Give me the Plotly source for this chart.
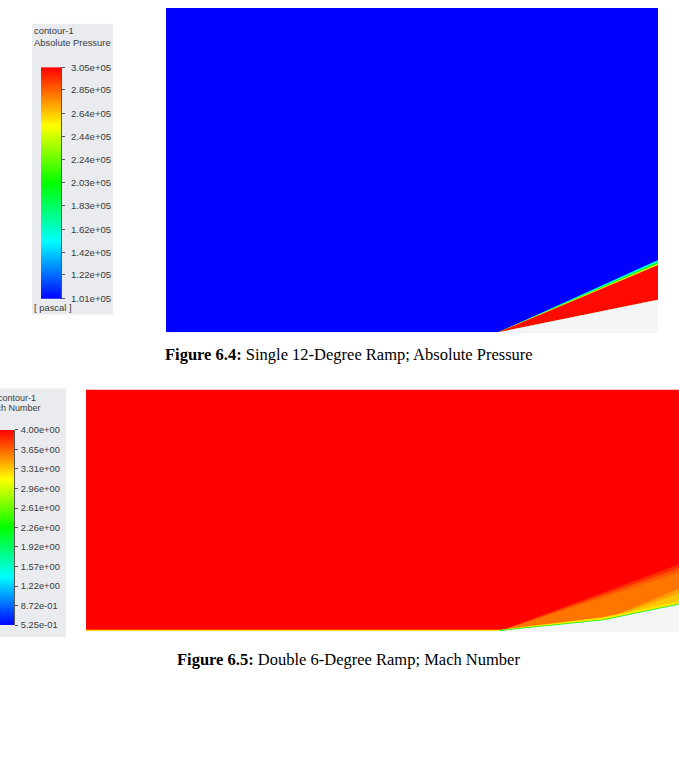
import numpy as np
import plotly.graph_objects as go

# ---------------- colour scale (Fluent-style rainbow) ----------------
scale_pos = [0.0, 0.25, 0.5, 0.75, 1.0]
scale_rgb = [(0, 0, 255), (0, 255, 255), (0, 255, 0), (255, 255, 0), (255, 0, 0)]

# ---------------- Figure 6.4 : absolute pressure legend ----------------
p_min, p_max = 1.01e5, 3.05e5
p_ticks = [1.01e5, 1.22e5, 1.42e5, 1.62e5, 1.83e5, 2.03e5, 2.24e5, 2.44e5, 2.64e5, 2.85e5, 3.05e5]
p_labels = ["1.01e+05", "1.22e+05", "1.42e+05", "1.62e+05", "1.83e+05", "2.03e+05",
            "2.24e+05", "2.44e+05", "2.64e+05", "2.85e+05", "3.05e+05"]

# ---------------- Figure 6.5 : Mach number legend ----------------
m_min, m_max = 0.525, 4.00
m_ticks = [0.525, 0.872, 1.22, 1.57, 1.92, 2.26, 2.61, 2.96, 3.31, 3.65, 4.00]
m_labels = ["5.25e-01", "8.72e-01", "1.22e+00", "1.57e+00", "1.92e+00", "2.26e+00",
            "2.61e+00", "2.96e+00", "3.31e+00", "3.65e+00", "4.00e+00"]

# ---------------- single 12-degree ramp (domain units) ----------------
ramp1_x = [0.0, 0.675, 1.0]
ramp1_y = [0.0, 0.0, 0.067]
p_free = 1.01e5
shock1_levels = [1.55e5, 2.05e5, 2.50e5, 3.03e5]   # cyan edge -> red core
shock1_top = [0.149, 0.145, 0.142, 0.139]            # height of each layer at outlet

# ---------------- double 6-degree ramp (domain units) ----------------
ramp2_x = [0.0, 0.698, 0.872, 1.0]
ramp2_y = [0.002, 0.002, 0.0202, 0.047]
mach_free = 4.00
zone_mach = [3.85, 3.70, 3.60, 3.45, 3.33]   # shock 1 (three layers), shock 2 (two layers)
zone_start = [1, 1, 1, 2, 2]                 # wall vertex where each shock starts
zone_top = [0.116, 0.109, 0.102, 0.074, 0.066]  # height at outlet
bl_mach = [3.22, 2.26]                       # boundary-layer band, wall line
bl_thick = [0.002, 0.002, 0.005, 0.006]

W, H = 679, 783


def cmap(v, vmin, vmax):
    t = min(max((v - vmin) / (vmax - vmin), 0.0), 1.0)
    for i in range(len(scale_pos) - 1):
        if t <= scale_pos[i + 1]:
            f = (t - scale_pos[i]) / (scale_pos[i + 1] - scale_pos[i])
            c = [round(a + (b - a) * f) for a, b in zip(scale_rgb[i], scale_rgb[i + 1])]
            return "rgb(%d,%d,%d)" % tuple(c)
    return "rgb(%d,%d,%d)" % scale_rgb[-1]


colorscale = [[p, "rgb(%d,%d,%d)" % c] for p, c in zip(scale_pos, scale_rgb)]


def px_x(a, b):
    return [a / W, b / W]


def px_y(top, bottom):
    return [1 - bottom / H, 1 - top / H]


fig = go.Figure()


def poly(xs, ys, color, xa, ya):
    fig.add_trace(go.Scatter(x=xs, y=ys, fill="toself", fillcolor=color, mode="lines",
                             line=dict(width=0, color=color), hoverinfo="skip",
                             showlegend=False, xaxis=xa, yaxis=ya))


# ---------- panel 1 ----------
P1_YMAX = 329 / 492
poly([0, 1, 1, 0], [0, 0, P1_YMAX, P1_YMAX], cmap(p_free, p_min, p_max), "x", "y")
x0 = ramp1_x[1]
for lev, top in zip(shock1_levels, shock1_top):
    poly([x0, 1, 1], [0, top, ramp1_y[2]], cmap(lev, p_min, p_max), "x", "y")
poly([x0, 1, 1], [0, ramp1_y[2], 0], "#f4f5f7", "x", "y")

# ---------- panel 2 ----------
P2_YMAX = 246 / 593
poly([0, 1, 1, 0], [0, 0, P2_YMAX, P2_YMAX], cmap(mach_free, m_min, m_max), "x2", "y2")
for mval, si, top in zip(zone_mach, zone_start, zone_top):
    xs = [ramp2_x[si], 1] + ramp2_x[si:][::-1]
    ys = [ramp2_y[si], top] + ramp2_y[si:][::-1]
    poly(xs, ys, cmap(mval, m_min, m_max), "x2", "y2")
bl_x = ramp2_x + ramp2_x[::-1]
bl_y = ramp2_y + [y + t for y, t in zip(ramp2_y, bl_thick)][::-1]
poly(bl_x, bl_y, cmap(bl_mach[0], m_min, m_max), "x2", "y2")
fig.add_trace(go.Scatter(x=ramp2_x[1:], y=ramp2_y[1:], mode="lines",
                         line=dict(width=1.6, color=cmap(bl_mach[1], m_min, m_max)),
                         hoverinfo="skip", showlegend=False, xaxis="x2", yaxis="y2"))
poly(ramp2_x + [1, 0], ramp2_y + [0, 0], "#f4f5f7", "x2", "y2")

# ---------- colour bars ----------
pv = np.linspace(p_min, p_max, 256)
fig.add_trace(go.Heatmap(x=[0, 1], y=pv, z=[[v, v] for v in pv], colorscale=colorscale,
                         zmin=p_min, zmax=p_max, showscale=False, zsmooth="best",
                         hoverinfo="skip", xaxis="x3", yaxis="y3"))
mv = np.linspace(m_min, m_max, 256)
fig.add_trace(go.Heatmap(x=[0, 1], y=mv, z=[[v, v] for v in mv], colorscale=colorscale,
                         zmin=m_min, zmax=m_max, showscale=False, zsmooth="best",
                         hoverinfo="skip", xaxis="x4", yaxis="y4"))

hidden = dict(showgrid=False, zeroline=False, showticklabels=False, ticks="",
              showline=False, fixedrange=True)

fig.update_layout(
    width=W, height=H, margin=dict(l=0, r=0, t=0, b=0),
    paper_bgcolor="white", plot_bgcolor="white", showlegend=False,
    xaxis=dict(domain=px_x(166, 658), range=[0, 1], anchor="y", **hidden),
    yaxis=dict(domain=px_y(2, 331), range=[0, P1_YMAX], anchor="x", **hidden),
    xaxis2=dict(domain=px_x(86, 679), range=[0, 1], anchor="y2", **hidden),
    yaxis2=dict(domain=px_y(389, 635), range=[0, P2_YMAX], anchor="x2", **hidden),
    xaxis3=dict(domain=px_x(41, 61), range=[0, 1], anchor="y3", **hidden),
    yaxis3=dict(domain=px_y(62, 297), range=[p_min, p_max], anchor="x3", side="right",
                tickvals=p_ticks, ticktext=p_labels, ticks="outside", ticklen=3,
                tickcolor="#555555", ticklabelstandoff=4, showgrid=False, zeroline=False,
                showline=True, linecolor="#555555", linewidth=1, fixedrange=True,
                tickfont=dict(family="Liberation Sans", size=9.6, color="#3a3a3a")),
    xaxis4=dict(domain=px_x(0, 14), range=[0, 1], anchor="y4", **hidden),
    yaxis4=dict(domain=px_y(430, 628), range=[m_min, m_max], anchor="x4", side="right",
                tickvals=m_ticks, ticktext=m_labels, ticks="outside", ticklen=3,
                tickcolor="#555555", ticklabelstandoff=1, showgrid=False, zeroline=False,
                showline=True, linecolor="#555555", linewidth=1, fixedrange=True,
                tickfont=dict(family="Liberation Sans", size=9.3, color="#3a3a3a")),
)

# legend background boxes
fig.add_shape(type="rect", xref="paper", yref="paper", layer="below",
              x0=32 / W, x1=113 / W, y0=1 - 313 / H, y1=1 - 18 / H,
              fillcolor="#e9ebef", line=dict(width=0))
fig.add_shape(type="rect", xref="paper", yref="paper", layer="below",
              x0=0, x1=66 / W, y0=1 - 640 / H, y1=1 - 388 / H,
              fillcolor="#e9ebef", line=dict(width=0))

small = dict(family="Liberation Sans", size=9.4, color="#3a3a3a")
small2 = dict(family="Liberation Sans", size=9.0, color="#3a3a3a")


def note(text, x, y, font, xanchor="left"):
    fig.add_annotation(text=text, x=x / W, y=1 - y / H, xref="paper", yref="paper",
                       xanchor=xanchor, yanchor="middle", showarrow=False, font=font)


note("contour-1", 32, 25, small)
note("Absolute Pressure", 32, 37, small)
note("[ pascal ]", 32, 306, small)
note("contour-1", 38, 398, small2, "right")
note("Mach Number", 43, 408, small2, "right")

cap = dict(family="Liberation Serif", size=16.5, color="black")
note("<b>Figure 6.4:</b> Single 12-Degree Ramp; Absolute Pressure", 349, 353, cap, "center")
note("<b>Figure 6.5:</b> Double 6-Degree Ramp; Mach Number", 349, 663, cap, "center")

fig.write_html("out.html")
